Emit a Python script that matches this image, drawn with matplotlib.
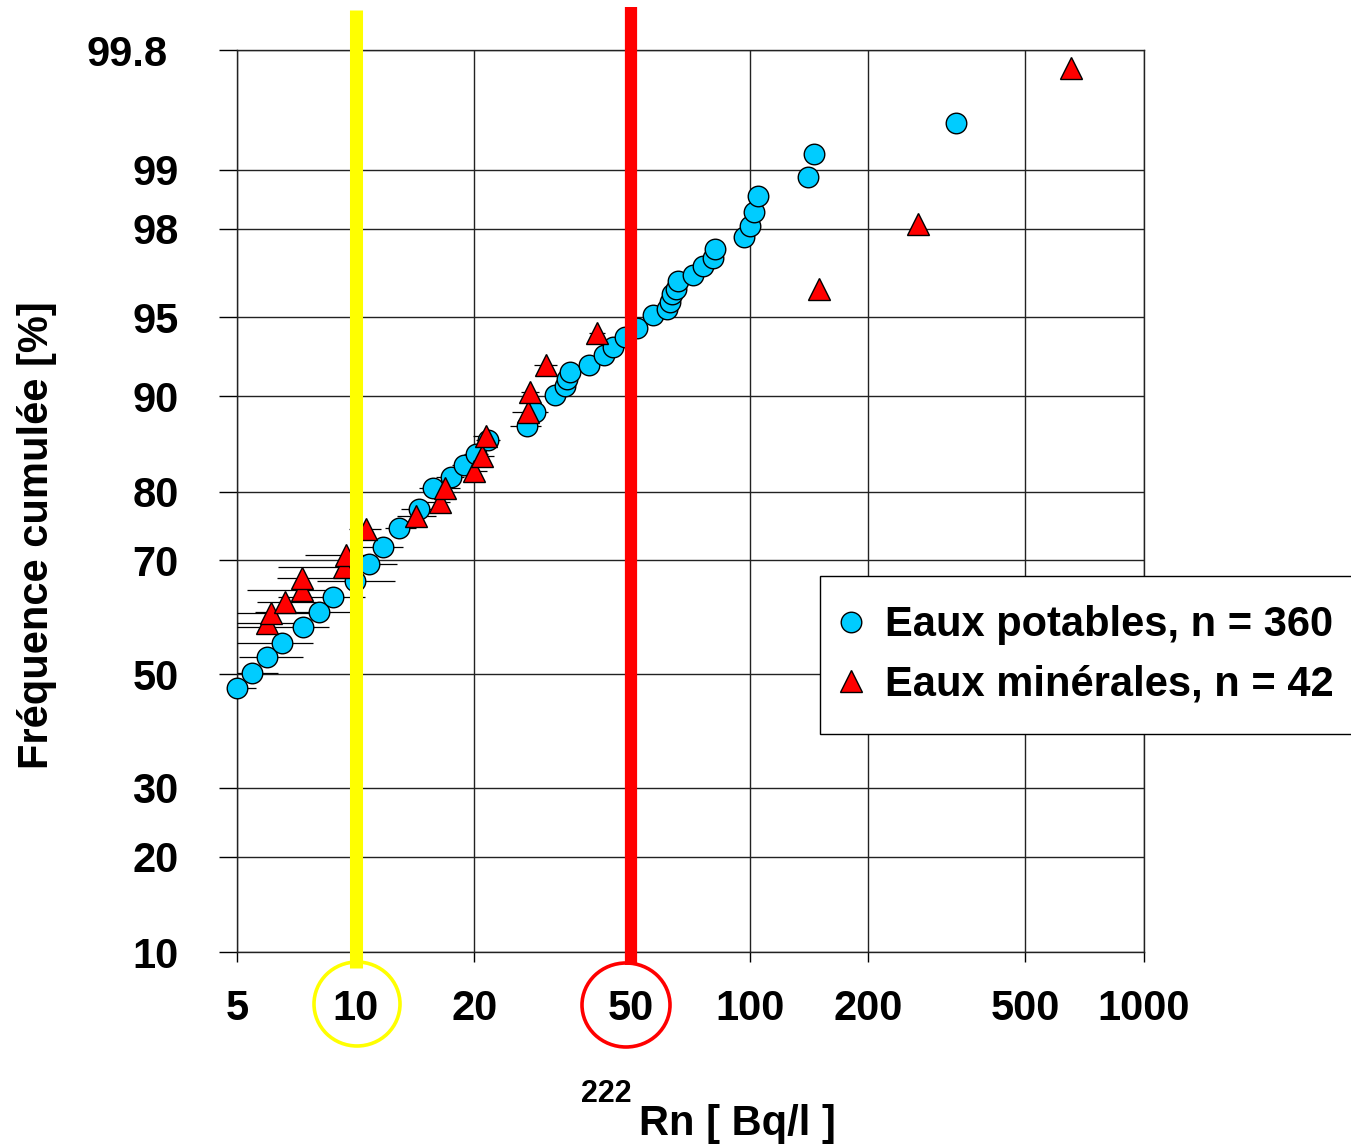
import numpy as np
import matplotlib
matplotlib.use("Agg")
import matplotlib.pyplot as plt
from matplotlib.patches import Ellipse
from matplotlib.ticker import FixedLocator, NullLocator, NullFormatter
import matplotlib.transforms as mtransforms
from statistics import NormalDist

plt.rcParams['font.family'] = ['Liberation Sans', 'DejaVu Sans']
plt.rcParams['font.weight'] = 'bold'

# ---------------- data ----------------
# Eaux potables (drinking water): Rn-222 [Bq/l] and cumulative frequency [%]
pot_x = [5.0, 5.46, 5.96, 6.5, 7.35, 8.07, 8.76, 9.96, 10.8, 11.7, 12.9, 14.5, 15.7,
         17.5, 18.8, 20.2, 21.7, 27.2, 28.5, 32.1, 34.0, 34.4, 35.0, 39.1, 42.7, 45.0,
         48.2, 51.7, 56.8, 61.7, 62.7, 63.5, 65.0, 65.8, 71.8, 76.1, 80.7, 81.6, 96.6,
         100.1, 102.5, 104.9, 140.5, 145.5, 333.0]
pot_y = [47.4, 50.2, 53.1, 55.7, 58.6, 61.3, 63.9, 66.6, 69.4, 72.1, 75.0, 77.7, 80.5,
         81.8, 83.3, 84.5, 86.0, 87.4, 88.7, 90.1, 90.8, 91.3, 91.8, 92.3, 92.95, 93.4,
         94.0, 94.5, 95.1, 95.4, 95.7, 96.0, 96.2, 96.5, 96.7, 97.0, 97.25, 97.5, 97.8,
         98.06, 98.35, 98.63, 98.91, 99.18, 99.45]
pot_err_lo = [0.3, 0.46, 0.9, 1.5, 2.35, 2.5, 2.4, 2.0, 1.5, 1.6, 1.0, 1.5, 1.2,
              1.5, 1.2, 1.4, 1.5, 2.5, 2.0, 1.8, 1.5, 1.5, 1.5, 1.5, 1.5, 1.5,
              1.8, 1.8, 2.0, 2.0, 2.0, 2.0, 2.0, 2.0, 2.0, 2.0, 2.0, 2.0, 2.0,
              2.0, 2.0, 2.0, 0.0, 0.0, 0.0]
pot_err_hi = [0.6, 0.9, 1.4, 1.3, 1.2, 1.6, 1.8, 2.6, 1.9, 1.5, 1.3, 1.5, 1.4,
              1.3, 1.2, 1.5, 1.5, 2.3, 2.3, 1.8, 1.5, 1.5, 1.5, 1.5, 1.5, 1.5,
              1.8, 1.8, 2.0, 2.0, 2.0, 2.0, 2.0, 2.0, 2.0, 2.0, 2.0, 2.0, 2.0,
              2.0, 2.0, 2.0, 0.0, 4.0, 0.0]

# Eaux minerales (mineral water)
min_x = [5.96, 6.10, 6.62, 7.31, 7.31, 9.34, 9.45, 10.6, 14.2, 16.4, 16.9, 20.0, 20.9,
         21.4, 27.4, 27.7, 30.4, 41.0, 149.8, 267.0, 653.0]
min_y = [59.3, 61.1, 63.0, 65.1, 67.1, 68.9, 70.9, 74.8, 76.7, 78.6, 80.5, 82.6, 84.3,
         86.4, 88.7, 90.35, 92.3, 94.2, 96.2, 98.1, 99.74]
min_err_lo = [0.96, 1.1, 1.0, 2.0, 1.0, 3.0, 2.0, 1.0, 1.5, 1.5, 1.5, 1.5, 1.5,
              1.5, 2.5, 1.5, 2.0, 2.0, 0.0, 0.0, 0.0]
min_err_hi = [1.0, 2.4, 1.3, 1.5, 2.5, 1.0, 1.5, 1.0, 1.8, 1.0, 1.5, 1.5, 1.5,
              1.5, 2.0, 1.5, 2.0, 2.0, 0.0, 0.0, 0.0]

x_ticks = [5, 10, 20, 50, 100, 200, 500, 1000]
x_tick_labels = ['5', '10', '20', '50', '100', '200', '500', '1000']
y_ticks = [10, 20, 30, 50, 70, 80, 90, 95, 98, 99, 99.8]
y_tick_labels = ['10', '20', '30', '50', '70', '80', '90', '95', '98', '99', '99.8']

limit_low = 10   # yellow line
limit_high = 50  # red line

# ---------------- figure ----------------
W, H = 1351, 1145
fig = plt.figure(figsize=(W / 100, H / 100), dpi=100)
ax = fig.add_axes([237 / W, 1 - 952 / H, (1144 - 237) / W, (952 - 50) / H])

_nd = NormalDist()
def _fwd(p):
    p = np.clip(np.asarray(p, dtype=float), 1e-6, 100 - 1e-6)
    return np.vectorize(lambda v: _nd.inv_cdf(v / 100.0), otypes=[float])(p)

def _inv(z):
    z = np.asarray(z, dtype=float)
    return np.vectorize(lambda v: _nd.cdf(v) * 100.0, otypes=[float])(z)

ax.set_xscale('log')
ax.set_yscale('function', functions=(_fwd, _inv))
ax.set_xlim(5, 1000)
ax.set_ylim(10, 99.8)

# error bars
ax.errorbar(pot_x, pot_y, xerr=[pot_err_lo, pot_err_hi], fmt='none',
            ecolor='black', elinewidth=0.9, capsize=0, zorder=3)
ax.errorbar(min_x, min_y, xerr=[min_err_lo, min_err_hi], fmt='none',
            ecolor='black', elinewidth=0.9, capsize=0, zorder=3)

h1, = ax.plot(pot_x, pot_y, 'o', ms=14.8, mfc='#00CCFF', mec='black', mew=1.0,
              ls='none', zorder=4, clip_on=False, label='Eaux potables, n = 360')
h2, = ax.plot(min_x, min_y, '^', ms=16, mfc='#FF0000', mec='black', mew=1.0,
              ls='none', zorder=4, clip_on=False, label='Eaux minérales, n = 42')

# reference vertical lines (extend beyond the axes)
xt = ax.get_xaxis_transform()
ax.plot([limit_low, limit_low], [(952 - 968) / 902, (952 - 10) / 902], transform=xt,
        color='#FFFF00', lw=9.4, solid_capstyle='butt', clip_on=False, zorder=6)
ax.plot([limit_high, limit_high], [(952 - 965) / 902, (952 - 7) / 902], transform=xt,
        color='#FF0000', lw=8.8, solid_capstyle='butt', clip_on=False, zorder=6)

# ticks / grid
ax.xaxis.set_major_locator(FixedLocator(x_ticks))
ax.set_xticklabels(x_tick_labels)
ax.xaxis.set_minor_locator(FixedLocator([10, 100, 1000]))
ax.xaxis.set_minor_formatter(NullFormatter())
ax.set_yticks(y_ticks)
ax.set_yticklabels(y_tick_labels)
ax.yaxis.set_minor_locator(NullLocator())

ax.tick_params(axis='x', which='major', direction='out', length=7.5, width=1.0,
               pad=19, labelsize=30, colors='black')
ax.tick_params(axis='x', which='minor', direction='out', length=13.5, width=1.0)
ax.tick_params(axis='y', which='major', direction='out', length=13, width=1.0,
               pad=29, labelsize=30)
for lab in ax.get_xticklabels() + ax.get_yticklabels():
    lab.set_fontweight('bold')

ax.grid(True, which='major', color='#222222', lw=1.0, zorder=1)
ax.set_axisbelow(True)
for sp in ax.spines.values():
    sp.set_color('#222222')
    sp.set_linewidth(1.0)

# shift 99.8 label slightly left, as in the reference
for lab in ax.get_yticklabels():
    if lab.get_text() == '99.8':
        lab.set_transform(lab.get_transform() +
                          mtransforms.ScaledTranslation(-11 / 100, 0, fig.dpi_scale_trans))

# axis labels
ax.set_ylabel('Fréquence cumulée [%]', fontsize=30, fontweight='bold', va='center')
ax.yaxis.set_label_coords((37 - 237) / 907, (952 - 535) / 902)
ax.text((639 - 237) / 907, (952 - 1135) / 902, 'Rn [ Bq/l ]', transform=ax.transAxes,
        fontsize=30, fontweight='bold', ha='left', va='baseline')
ax.text((581 - 237) / 907, (952 - 1102) / 902, '222', transform=ax.transAxes,
        fontsize=22, fontweight='bold', ha='left', va='baseline')

# circles around 10 and 50 tick labels
fig.add_artist(Ellipse((357 / W, 1 - 1004 / H), 86 / W, 84 / H, transform=fig.transFigure,
                       fill=False, ec='#FFFF00', lw=2.6))
fig.add_artist(Ellipse((626 / W, 1 - 1005 / H), 88 / W, 84 / H, transform=fig.transFigure,
                       fill=False, ec='#FF0000', lw=2.6))

leg = ax.legend(handles=[h1, h2], loc='upper left', bbox_to_anchor=(820 / W, 1 - 576 / H),
                bbox_transform=fig.transFigure, borderaxespad=0, fontsize=30,
                frameon=True, fancybox=False, framealpha=1, edgecolor='black',
                borderpad=0.7, handlelength=0.1, handletextpad=0.77,
                labelspacing=0.47, numpoints=1)
leg.get_frame().set_linewidth(1.0)
for t in leg.get_texts():
    t.set_fontweight('bold')
leg.set_zorder(10)

fig.savefig('out.png', dpi=100)
